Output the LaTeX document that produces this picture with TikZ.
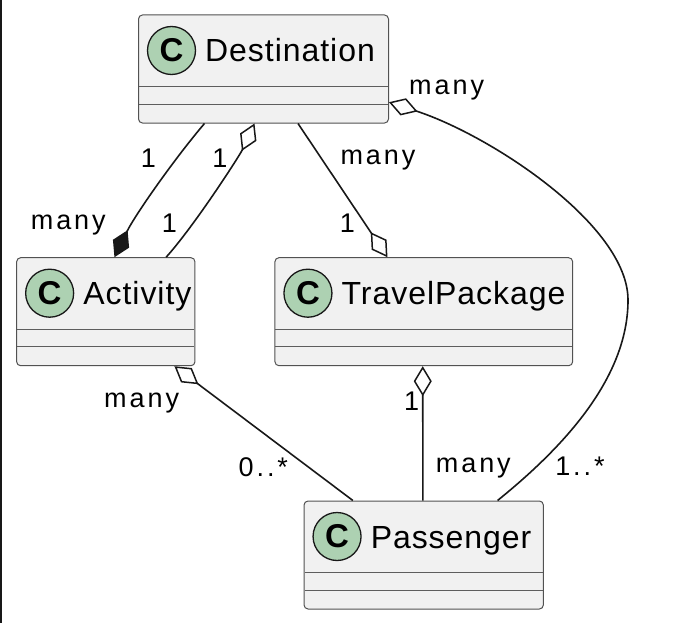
\documentclass[tikz,border=0pt]{standalone}
\usepackage{fontspec}
\setmainfont{Liberation Sans}
\newfontfamily\lblfont[LetterSpace=11]{Liberation Sans}
\newfontfamily\clsfont[LetterSpace=3]{Liberation Sans}
\usetikzlibrary{arrows.meta,calc}
\definecolor{boxfill}{HTML}{F1F1F1}
\definecolor{iconfill}{HTML}{ADD1B2}
\definecolor{ink}{HTML}{181818}
\tikzset{
  classbox/.style={draw=ink!75, line width=1pt, fill=boxfill, rounded corners=4pt, minimum height=108pt, inner sep=0pt},
  sepline/.style={draw=ink!70, line width=1pt},
  classicon/.style={circle, draw=ink, line width=1.3pt, fill=iconfill, minimum size=48pt, inner sep=0pt, font=\fontsize{33}{33}\selectfont\bfseries},
  classname/.style={anchor=base west, inner sep=0pt, font=\clsfont\fontsize{32}{34}\selectfont},
  lbl/.style={inner sep=0pt, font=\lblfont\fontsize{27}{29}\selectfont},
  conn/.style={draw=ink, line width=1.6pt},
  odia/.style={-{Diamond[length=30pt,width=18pt,fill=white,line width=1.5pt]}},
  fdia/.style={-{Diamond[length=30pt,width=18pt,fill=ink,line width=1.5pt]}},
}
\newcommand{\umlclass}[5]{%
  \node[classbox, minimum width=#4pt] (#1) at (#2,#3) {};
  \draw[sepline] ([xshift=1pt,yshift=-72pt]#1.north west) -- ([xshift=-1pt,yshift=-72pt]#1.north east);
  \draw[sepline] ([xshift=1pt,yshift=-89.7pt]#1.north west) -- ([xshift=-1pt,yshift=-89.7pt]#1.north east);
  \node[classicon] (#1-icon) at ([xshift=33.5pt,yshift=-36pt]#1.north west) {C};
  \node[classname] (#1-name) at ([xshift=67pt,yshift=-47.5pt]#1.north west) {#5};
}
\begin{document}
\begin{tikzpicture}[x=1pt,y=-1pt]
\useasboundingbox (0,0) rectangle (676,623);
\draw[line width=1.5pt, ink] (0.75,0) -- (0.75,623);

\umlclass{dest}{263.5}{69}{250}{Destination}
\umlclass{act}{105.8}{311.7}{178.3}{Activity}
\umlclass{tp}{423.8}{311.7}{297.7}{TravelPackage}
\umlclass{pas}{423.7}{555}{239.3}{Passenger}

% Destination -- Activity (composition)
\draw[conn, fdia] ([xshift=66.5pt]dest.south west) .. controls (175,158) and (135,215) .. ([xshift=98.3pt]act.north west);
% Activity -- Destination (aggregation)
\draw[conn, odia] ([xshift=150pt]act.north west) .. controls (195,225) and (240,155) .. ([xshift=116.5pt]dest.south west);
% Destination -- TravelPackage
\draw[conn, odia] ([xshift=160pt]dest.south west) -- ([xshift=113pt]tp.north west);
% Passenger -- Destination
\coordinate (bulge) at (628,300);
\draw[conn, odia] ([xshift=194pt]pas.north west) .. controls (560,450) and (628,380) .. (bulge)
  .. controls (628,225) and (490,135) .. ([yshift=-87.7pt]dest.north east);
% Passenger -- Activity
\draw[conn, odia] ([xshift=49.3pt]pas.north west) -- ([xshift=158.3pt]act.south west);
% Passenger -- TravelPackage
\draw[conn, odia] ([xshift=119.3pt]pas.north west) -- ([xshift=148.3pt]tp.south west);

% labels
\node[lbl] (l1) at (148.3,158.3) {1};
\node[lbl] (l2) at (68.3,225) {many};
\node[lbl] (l3) at (220,158.3) {1};
\node[lbl] (l4) at (169.3,223.3) {1};
\node[lbl] (l5) at (378,160) {many};
\node[lbl] (l6) at (347.3,223.3) {1};
\node[lbl] (l7) at (446.7,90) {many};
\node[lbl] (l8) at (580,466.7) {1..*};
\node[lbl] (l9) at (141.7,403.3) {many};
\node[lbl] (l10) at (263.3,466.7) {0..*};
\node[lbl] (l11) at (411.7,401.7) {1};
\node[lbl] (l12) at (473.3,468.3) {many};
\end{tikzpicture}
\end{document}
